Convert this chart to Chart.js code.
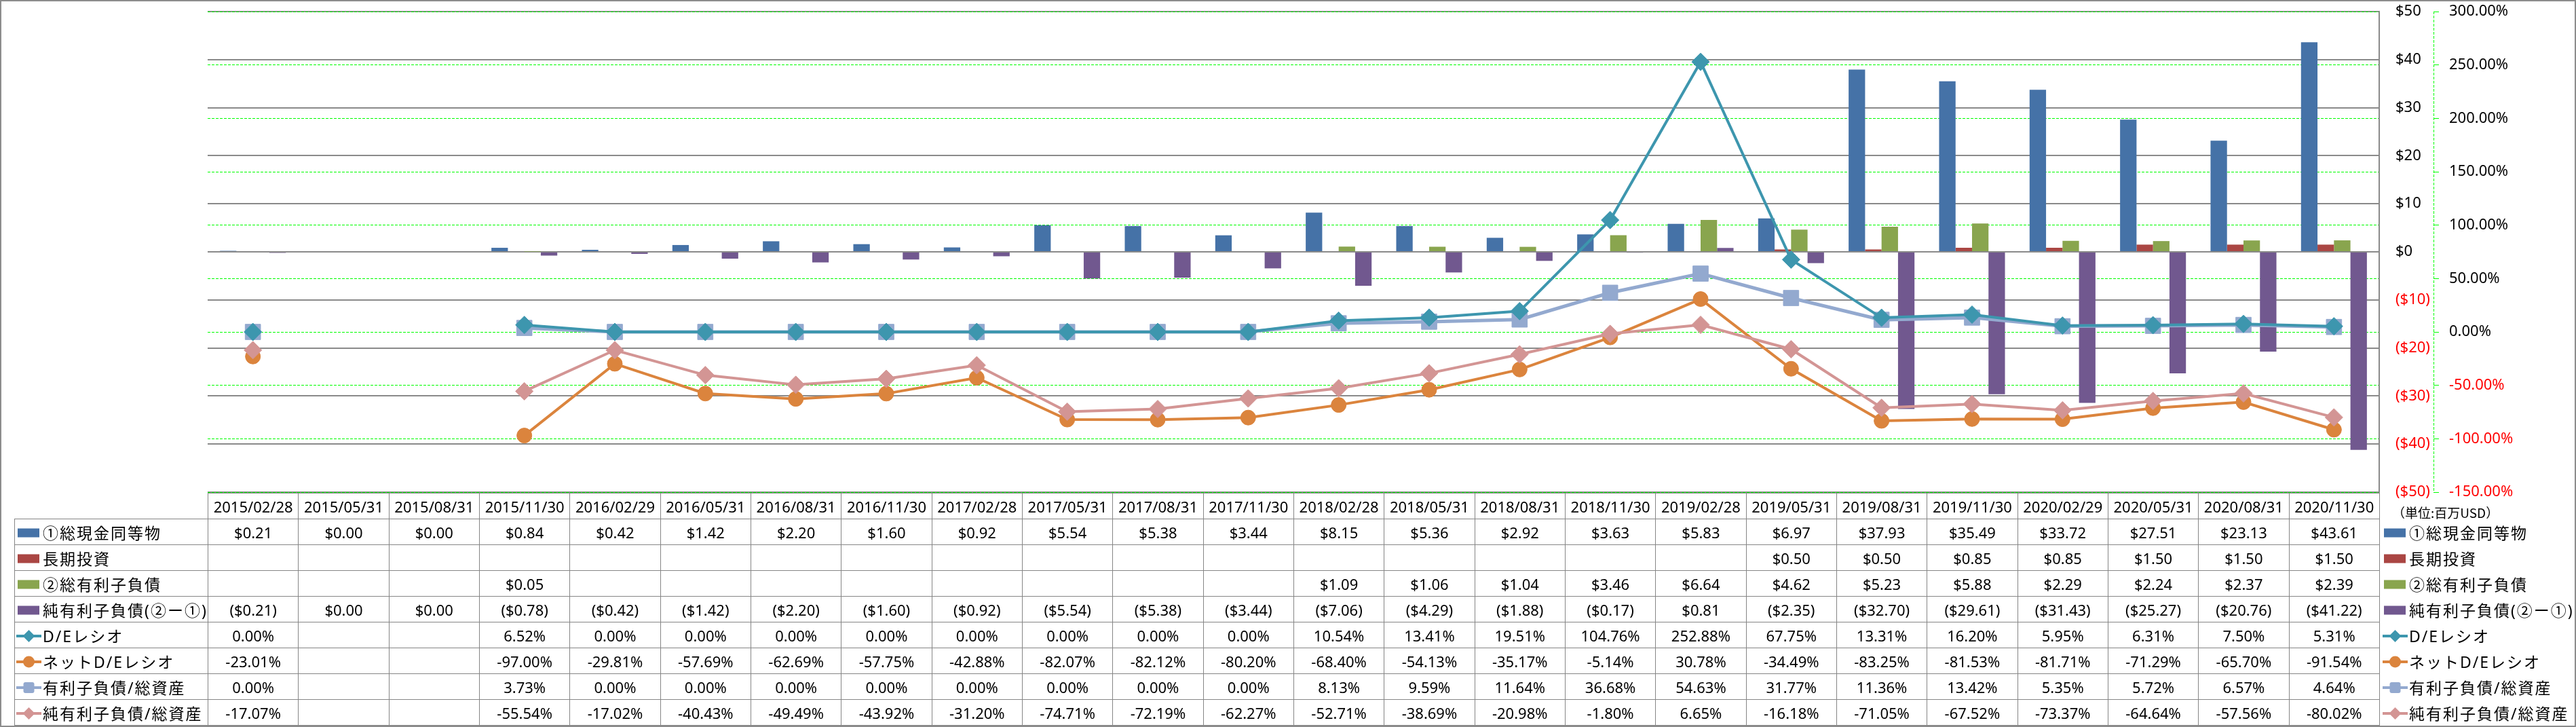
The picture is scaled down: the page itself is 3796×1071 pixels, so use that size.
<!DOCTYPE html>
<html>
<head>
<meta charset="utf-8">
<script src="https://cdn.jsdelivr.net/npm/chart.js@4.4.0/dist/chart.umd.min.js"></script>
<style>
  html, body { margin: 0; padding: 0; background: #fff; }
  #frame { position: absolute; left: 0; top: 0; width: 3796px; height: 1071px; box-sizing: border-box; border: 2px solid #8c8c8c; }
  #chart { position: absolute; left: 0; top: 0; }
  #unit { position: absolute; left: 3525px; top: 744px; font: 19px 'Noto Sans CJK JP', 'Noto Sans', sans-serif; line-height: 22px; white-space: nowrap; color: #000; }
  #tbl { position: absolute; left: 21px; top: 726px; width: 3775px; border-collapse: collapse; table-layout: fixed;
         font: 22px 'Noto Sans', 'Noto Sans CJK JP', sans-serif; color: #000; }
  #tbl tr { height: 38px; }
  #tbl td { padding: 0; border: 1px solid #868686; text-align: center; white-space: nowrap; overflow: visible; line-height: 26px; }
  #tbl td.blank { border: none; }
  #tbl td.lab { text-align: left; padding-left: 2px; font-size: 23px; letter-spacing: 2px; }
  #tbl td.rlab { border: none; text-align: left; padding-left: 4px; font-size: 23px; letter-spacing: 2px; }
  .key { display: inline-block; vertical-align: middle; width: 39px; height: 22px; }
  .txt { display: inline-block; vertical-align: middle; }
</style>
</head>
<body>
<div id="frame"></div>
<canvas id="chart" width="3796" height="745"></canvas>
<table id="tbl"></table>
<div id="unit">（単位:百万USD）</div>
<script>
// Categories
const dates = ['2015/02/28', '2015/05/31', '2015/08/31', '2015/11/30', '2016/02/29', '2016/05/31', '2016/08/31', '2016/11/30',
  '2017/02/28', '2017/05/31', '2017/08/31', '2017/11/30', '2018/02/28', '2018/05/31', '2018/08/31', '2018/11/30',
  '2019/02/28', '2019/05/31', '2019/08/31', '2019/11/30', '2020/02/29', '2020/05/31', '2020/08/31', '2020/11/30'];

// Bars (百万USD)
const cashEq = [0.21, 0.00, 0.00, 0.84, 0.42, 1.42, 2.20, 1.60, 0.92, 5.54, 5.38, 3.44, 8.15, 5.36, 2.92, 3.63, 5.83, 6.97, 37.93, 35.49, 33.72, 27.51, 23.13, 43.61];
const longInvest = [null, null, null, null, null, null, null, null, null, null, null, null, null, null, null, null, null, 0.50, 0.50, 0.85, 0.85, 1.50, 1.50, 1.50];
const totalDebt = [null, null, null, 0.05, null, null, null, null, null, null, null, null, 1.09, 1.06, 1.04, 3.46, 6.64, 4.62, 5.23, 5.88, 2.29, 2.24, 2.37, 2.39];
const netDebt = [-0.21, 0.00, 0.00, -0.78, -0.42, -1.42, -2.20, -1.60, -0.92, -5.54, -5.38, -3.44, -7.06, -4.29, -1.88, -0.17, 0.81, -2.35, -32.70, -29.61, -31.43, -25.27, -20.76, -41.22];

// Lines (%)
const deRatio = [0.00, null, null, 6.52, 0.00, 0.00, 0.00, 0.00, 0.00, 0.00, 0.00, 0.00, 10.54, 13.41, 19.51, 104.76, 252.88, 67.75, 13.31, 16.20, 5.95, 6.31, 7.50, 5.31];
const netDeRatio = [-23.01, null, null, -97.00, -29.81, -57.69, -62.69, -57.75, -42.88, -82.07, -82.12, -80.20, -68.40, -54.13, -35.17, -5.14, 30.78, -34.49, -83.25, -81.53, -81.71, -71.29, -65.70, -91.54];
const debtToAssets = [0.00, null, null, 3.73, 0.00, 0.00, 0.00, 0.00, 0.00, 0.00, 0.00, 0.00, 8.13, 9.59, 11.64, 36.68, 54.63, 31.77, 11.36, 13.42, 5.35, 5.72, 6.57, 4.64];
const netDebtToAssets = [-17.07, null, null, -55.54, -17.02, -40.43, -49.49, -43.92, -31.20, -74.71, -72.19, -62.27, -52.71, -38.69, -20.98, -1.80, 6.65, -16.18, -71.05, -67.52, -73.37, -64.64, -57.56, -80.02];

// Axis ticks
const usdTicks = [-50, -40, -30, -20, -10, 0, 10, 20, 30, 40, 50];
const pctTicks = [-150, -100, -50, 0, 50, 100, 150, 200, 250, 300];

// Series, in table order
const series = [
  { label: '①総現金同等物', data: cashEq, kind: 'bar', color: '#4572A7' },
  { label: '長期投資', data: longInvest, kind: 'bar', color: '#AA4643' },
  { label: '②総有利子負債', data: totalDebt, kind: 'bar', color: '#89A54E' },
  { label: '純有利子負債(②ー①)', data: netDebt, kind: 'bar', color: '#71588F' },
  { label: 'D/Eレシオ', data: deRatio, kind: 'line', color: '#3D96AE', marker: 'rectRot', radius: 13, width: 4, order: 1 },
  { label: 'ネットD/Eレシオ', data: netDeRatio, kind: 'line', color: '#DB843D', marker: 'circle', radius: 11, width: 4, order: 3 },
  { label: '有利子負債/総資産', data: debtToAssets, kind: 'line', color: '#93A9CF', marker: 'rect', radius: 16, width: 5, order: 4 },
  { label: '純有利子負債/総資産', data: netDebtToAssets, kind: 'line', color: '#D39594', marker: 'rectRot', radius: 13, width: 4, order: 2 }
];

const fmtUsd = v => v == null ? '' : (v < 0 ? `($${(-v).toFixed(2)})` : `$${v.toFixed(2)}`);
const fmtPct = v => v == null ? '' : `${v.toFixed(2)}%`;

// Legend key drawn next to each row label
function keySvg(s) {
  if (s.kind === 'bar') {
    return `<svg class="key" viewBox="0 0 39 22"><rect x="2" y="4.5" width="32" height="13" fill="${s.color}"/></svg>`;
  }
  let m = '';
  if (s.marker === 'circle') m = `<circle cx="18.5" cy="11" r="8.5" fill="${s.color}"/>`;
  else if (s.marker === 'rect') m = `<rect x="10.5" y="3" width="16" height="16" rx="3" fill="${s.color}"/>`;
  else m = `<polygon points="18.5,2 27.5,11 18.5,20 9.5,11" fill="${s.color}"/>`;
  return `<svg class="key" viewBox="0 0 39 22"><line x1="0" y1="11" x2="37" y2="11" stroke="${s.color}" stroke-width="4"/>${m}</svg>`;
}

// Data table
const tbl = document.getElementById('tbl');
let html = '<colgroup><col style="width:285px">' + dates.map(() => '<col style="width:133.3333px">').join('') + '<col style="width:290px"></colgroup>';
html += '<tr><td class="blank"></td>' + dates.map(d => `<td>${d}</td>`).join('') + '<td class="blank"></td></tr>';
series.forEach(s => {
  const fmt = s.kind === 'bar' ? fmtUsd : fmtPct;
  const key = keySvg(s) + `<span class="txt">${s.label}</span>`;
  html += `<tr><td class="lab">${key}</td>` + s.data.map(v => `<td>${fmt(v)}</td>`).join('') + `<td class="rlab">${key}</td></tr>`;
});
tbl.innerHTML = html;

// Dashed line for the % axis
const pctAxisLine = {
  id: 'pctAxisLine',
  afterDraw(chart) {
    const s = chart.scales.y1;
    const ctx = chart.ctx;
    ctx.save();
    ctx.strokeStyle = '#00FF00';
    ctx.lineWidth = 1;
    ctx.setLineDash([4, 2]);
    ctx.beginPath();
    ctx.moveTo(Math.round(s.left) + 0.5, s.top);
    ctx.lineTo(Math.round(s.left) + 0.5, s.bottom);
    ctx.stroke();
    ctx.restore();
  }
};

Chart.defaults.font.family = "'Noto Sans', 'Noto Sans CJK JP', sans-serif";
Chart.defaults.font.size = 22;
Chart.defaults.color = '#000';

const datasets = series.map(s => s.kind === 'bar'
  ? { type: 'bar', label: s.label, data: s.data, yAxisID: 'y', backgroundColor: s.color, borderWidth: 0,
      categoryPercentage: 0.728, barPercentage: 1, order: 10 }
  : { type: 'line', label: s.label, data: s.data, yAxisID: 'y1', borderColor: s.color, backgroundColor: s.color,
      borderWidth: s.width, pointStyle: s.marker, pointRadius: s.radius, pointBackgroundColor: s.color,
      pointBorderColor: s.color, pointBorderWidth: 1, tension: 0, spanGaps: false, order: s.order });

// keep the plot box fixed: labels may hang over the layout padding
const fixAxis = w => sc => { sc.width = w; sc.paddingTop = 0; sc.paddingBottom = 0; };

new Chart(document.getElementById('chart'), {
  type: 'bar',
  data: { labels: dates, datasets },
  options: {
    responsive: false,
    animation: false,
    devicePixelRatio: 1,
    layout: { padding: { left: 306, top: 15, right: 0, bottom: 20 } },
    plugins: { legend: { display: false }, tooltip: { enabled: false } },
    scales: {
      x: { display: false, offset: true, grid: { display: false } },
      y: {
        position: 'right', min: -50, max: 50,
        afterBuildTicks: sc => { sc.ticks = usdTicks.map(v => ({ value: v })); },
        afterFit: fixAxis(80),
        grid: { color: '#8a8a8a', lineWidth: 2, drawTicks: true, tickLength: 24, tickColor: 'rgba(0,0,0,0)' },
        border: { display: true, color: '#8a8a8a', width: 2 },
        ticks: {
          padding: 0,
          color: c => c.tick.value < 0 ? '#FF0000' : '#000',
          callback: v => v < 0 ? `($${-v})` : `$${v}`
        }
      },
      y1: {
        position: 'right', min: -150, max: 300,
        afterBuildTicks: sc => { sc.ticks = pctTicks.map(v => ({ value: v })); },
        afterFit: fixAxis(210),
        grid: { color: '#00FF00', lineWidth: 1, drawTicks: true, tickLength: 8, tickColor: '#00FF00' },
        border: { display: false, dash: [4, 2] },
        ticks: {
          padding: 15,
          color: c => c.tick.value < 0 ? '#FF0000' : '#000',
          callback: v => `${v.toFixed(2)}%`
        }
      }
    }
  },
  plugins: [pctAxisLine]
});
</script>
</body>
</html>
